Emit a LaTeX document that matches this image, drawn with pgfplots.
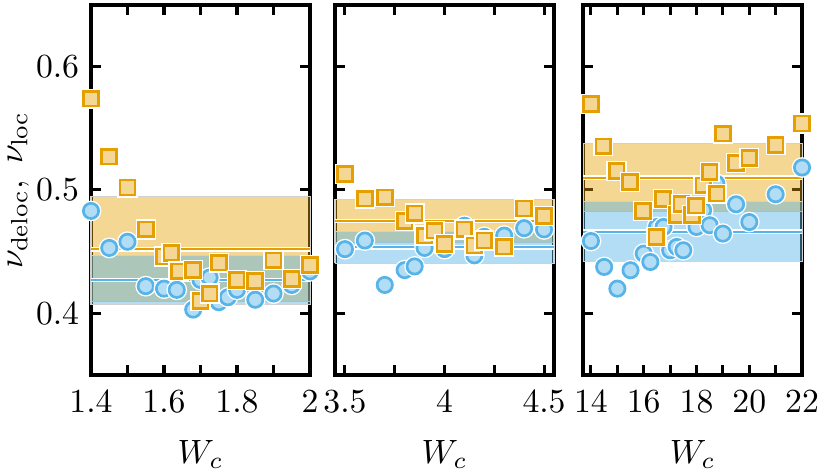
\documentclass[border=0pt]{standalone}
\usepackage{pgfplots}
\pgfplotsset{compat=1.18}
\definecolor{cOr}{RGB}{230,159,0}
\definecolor{cBl}{RGB}{86,180,233}
\colorlet{cOrL}{cOr!42!white}
\colorlet{cBlL}{cBl!45!white}

\pgfdeclareplotmark{hsq}{%
  \pgfpathrectangle{\pgfqpoint{-\pgfplotmarksize}{-\pgfplotmarksize}}{\pgfqpoint{2\pgfplotmarksize}{2\pgfplotmarksize}}%
  \pgfsetlinewidth{1.6pt}\pgfsetstrokecolor{white}\pgfusepathqstroke
  \pgfpathrectangle{\pgfqpoint{-\pgfplotmarksize}{-\pgfplotmarksize}}{\pgfqpoint{2\pgfplotmarksize}{2\pgfplotmarksize}}%
  \pgfsetlinewidth{0.8pt}\pgfsetstrokecolor{cOr}\pgfsetfillcolor{cOrL}\pgfusepathqfillstroke}
\pgfdeclareplotmark{hci}{%
  \pgfpathcircle{\pgfpointorigin}{\pgfplotmarksize}%
  \pgfsetlinewidth{1.6pt}\pgfsetstrokecolor{white}\pgfusepathqstroke
  \pgfpathcircle{\pgfpointorigin}{\pgfplotmarksize}%
  \pgfsetlinewidth{0.8pt}\pgfsetstrokecolor{cBl}\pgfsetfillcolor{cBlL}\pgfusepathqfillstroke}

\pgfplotsset{
  panel/.style={scale only axis, width=64.98pt, height=109.8pt, anchor=south west,
    ymin=0.35, ymax=0.65, ytick={0.4,0.5,0.6}, clip=false,
    tick align=inside, major tick length=3pt, minor tick length=3pt,
    axis line style={line width=1pt},
    major tick style={black, line width=0.9pt},
    minor tick style={black, line width=0.9pt},
    yticklabel style={/pgf/number format/fixed, /pgf/number format/precision=1},
    xticklabel style={yshift=-1.2pt},
    xlabel={$W_c$},
    xlabel style={at={(axis description cs:0.5,-0.145)}, anchor=north}},
  oband/.style={draw=black!18, line width=0.3pt, fill=cOr, fill opacity=0.42, forget plot},
  bband/.style={draw=black!18, line width=0.3pt, fill=cBl, fill opacity=0.45, forget plot},
  halo/.style={white, line width=1.4pt, forget plot},
  oline/.style={cOr, line width=0.6pt, forget plot},
  bline/.style={cBl, line width=0.6pt, forget plot},
  sq/.style={only marks, mark=hsq, mark size=2.2pt},
  ci/.style={only marks, mark=hci, mark size=2.27pt},
}

\begin{document}
\begin{tikzpicture}
\useasboundingbox (0,0) rectangle (243.9pt,140.04pt);

% ---------------- panel 1 ----------------
\begin{axis}[panel, at={(27.0pt,28.78pt)}, xmin=1.4, xmax=2.0,
  xtick={1.4,1.6,1.8,2}, minor xtick={1.5,1.7,1.9},
  ylabel={$\nu_{\mathrm{deloc}},\ \nu_{\mathrm{loc}}$},
  ylabel style={at={(axis description cs:-0.313,0.5)}, anchor=base}]
\addplot[oband] coordinates {(1.4,0.4095) (2.0,0.4095) (2.0,0.4943) (1.4,0.4943) (1.4,0.4095)};
\addplot[bband] coordinates {(1.4,0.407) (2.0,0.407) (2.0,0.4465) (1.4,0.4465) (1.4,0.407)};
\addplot[halo] coordinates {(1.4,0.452) (2.0,0.452)};
\addplot[oline] coordinates {(1.4,0.452) (2.0,0.452)};
\addplot[ci] coordinates {(1.40,0.483) (1.45,0.453) (1.50,0.458) (1.55,0.422) (1.60,0.420) (1.635,0.419) (1.68,0.403) (1.70,0.427) (1.725,0.429) (1.75,0.409) (1.775,0.413) (1.80,0.419) (1.85,0.411) (1.90,0.416) (1.95,0.423) (2.00,0.434)};
\addplot[halo] coordinates {(1.4,0.427) (2.0,0.427)};
\addplot[bline] coordinates {(1.4,0.427) (2.0,0.427)};
\addplot[sq] coordinates {(1.40,0.574) (1.45,0.527) (1.50,0.502) (1.55,0.468) (1.60,0.446) (1.62,0.449) (1.64,0.434) (1.68,0.435) (1.70,0.410) (1.725,0.416) (1.75,0.441) (1.80,0.427) (1.85,0.426) (1.90,0.443) (1.95,0.428) (2.00,0.439)};
\end{axis}

% ---------------- panel 2 ----------------
\begin{axis}[panel, at={(99.4pt,28.78pt)}, xmin=3.45, xmax=4.55,
  xtick={3.5,4,4.5}, minor xtick={3.75,4.25}, yticklabels={}]
\addplot[oband] coordinates {(3.45,0.4577) (4.55,0.4577) (4.55,0.4919) (3.45,0.4919) (3.45,0.4577)};
\addplot[bband] coordinates {(3.45,0.4405) (4.55,0.4405) (4.55,0.4663) (3.45,0.4663) (3.45,0.4405)};
\addplot[halo] coordinates {(3.45,0.4748) (4.55,0.4748)};
\addplot[oline] coordinates {(3.45,0.4748) (4.55,0.4748)};
\addplot[ci] coordinates {(3.50,0.452) (3.60,0.459) (3.70,0.423) (3.80,0.435) (3.85,0.438) (3.90,0.453) (4.00,0.452) (4.10,0.471) (4.15,0.447) (4.20,0.462) (4.30,0.463) (4.40,0.469) (4.50,0.468)};
\addplot[halo] coordinates {(3.45,0.4534) (4.55,0.4534)};
\addplot[bline] coordinates {(3.45,0.4534) (4.55,0.4534)};
\addplot[sq] coordinates {(3.50,0.513) (3.60,0.493) (3.70,0.494) (3.80,0.475) (3.85,0.481) (3.90,0.463) (3.95,0.467) (4.00,0.456) (4.10,0.468) (4.15,0.455) (4.20,0.459) (4.30,0.454) (4.40,0.485) (4.50,0.479)};
\end{axis}

% ---------------- panel 3 ----------------
\begin{axis}[panel, at={(173.0pt,28.78pt)}, xmin=13.7, xmax=22,
  xtick={14,16,18,20,22}, minor xtick={15,17,19,21}, yticklabels={}]
\addplot[oband] coordinates {(13.7,0.4826) (22,0.4826) (22,0.5374) (13.7,0.5374) (13.7,0.4826)};
\addplot[bband] coordinates {(13.7,0.4417) (22,0.4417) (22,0.4905) (13.7,0.4905) (13.7,0.4417)};
\addplot[halo] coordinates {(13.7,0.510) (22,0.510)};
\addplot[oline] coordinates {(13.7,0.510) (22,0.510)};
\addplot[ci] coordinates {(14.0,0.4586) (14.5,0.4376) (15.0,0.420) (15.5,0.4349) (16.0,0.4484) (16.25,0.4416) (16.5,0.470) (16.75,0.470) (17.0,0.4511) (17.25,0.4538) (17.5,0.4511) (18.0,0.470) (18.25,0.4835) (18.5,0.4714) (18.75,0.5052) (19.0,0.4646) (19.5,0.4884) (20.0,0.474) (21.0,0.4965) (22.0,0.5182)};
\addplot[halo] coordinates {(13.7,0.4661) (22,0.4661)};
\addplot[bline] coordinates {(13.7,0.4661) (22,0.4661)};
\addplot[sq] coordinates {(14.0,0.5695) (14.47,0.5354) (14.97,0.5154) (15.47,0.5065) (15.98,0.483) (16.48,0.462) (16.72,0.4927) (17.25,0.4795) (17.43,0.4887) (17.82,0.4795) (17.99,0.4873) (18.26,0.5038) (18.5,0.5146) (18.76,0.497) (19.0,0.5457) (19.5,0.5219) (20.0,0.526) (21.0,0.5363) (22.0,0.5539)};
\end{axis}
\end{tikzpicture}
\end{document}
